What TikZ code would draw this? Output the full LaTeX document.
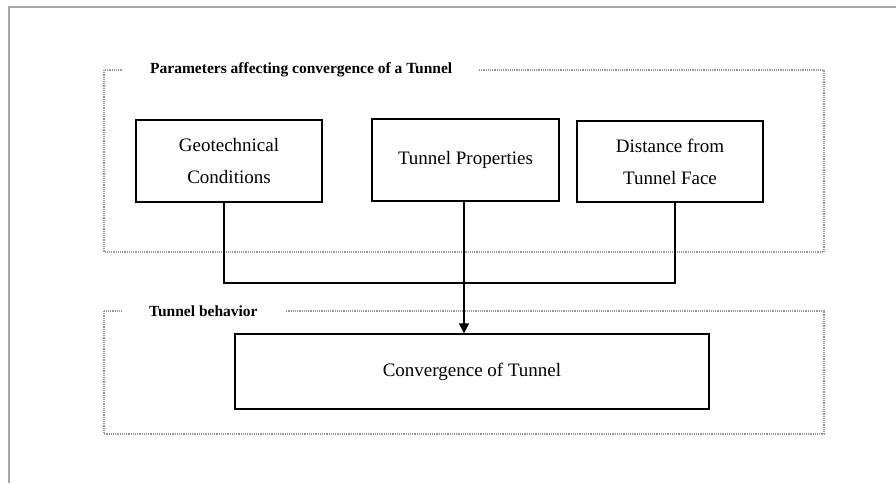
\documentclass[tikz,border=0pt]{standalone}
\usepackage{fontspec}
\setmainfont{Liberation Serif}
\usepackage{tikz}
\usetikzlibrary{arrows.meta}

\begin{document}
\begin{tikzpicture}[
      x=1pt, y=-1pt,
      >={Triangle[length=10pt,width=10pt]},
      box/.style={draw,rectangle,line width=1.3pt,align=center,
                  font=\fontsize{19}{32}\selectfont},
      group/.style={draw=gray!80,densely dotted,line width=1.2pt},
      grouplabel/.style={fill=white,inner xsep=27pt,inner ysep=2pt,
                  font=\fontsize{15.5}{18}\selectfont\bfseries},
      link/.style={line width=1.2pt}
    ]
    \useasboundingbox (0,0) rectangle (896,483);

    % page edge
    \draw[gray!70,line width=2pt] (9,483) -- (9,7) -- (896,7);

    % Parameter groups
    \draw[group] (104,70) rectangle (824,252);
    \node[grouplabel,anchor=west] (paramlabel) at (123,70)
          {Parameters affecting convergence of a Tunnel};
    \draw[group] (104,311) rectangle (824,434);
    \node[grouplabel,anchor=west] (behavlabel) at (122,311) {Tunnel behavior};

    % Parameter boxes
    \node[box,minimum width=186pt,minimum height=82pt] (geo) at (229,161)
          {Geotechnical\\Conditions};
    \node[box,minimum width=187pt,minimum height=82pt] (tprop) at (465.5,160)
          {Tunnel Properties};
    \node[box,minimum width=186pt,minimum height=81pt] (dist) at (670,161.5)
          {Distance from\\Tunnel Face};

    % Result box
    \node[box,minimum width=474pt,minimum height=75pt] (conv) at (472,371.5)
          {Convergence of Tunnel};

    % Draw connections
    \draw[link] (geo.south -| 224,0) |- (675,283) -- (dist.south -| 675,0);
    \draw[link,->] (tprop.south -| 464,0) -- (conv.north -| 464,0);

  \end{tikzpicture}
\end{document}
